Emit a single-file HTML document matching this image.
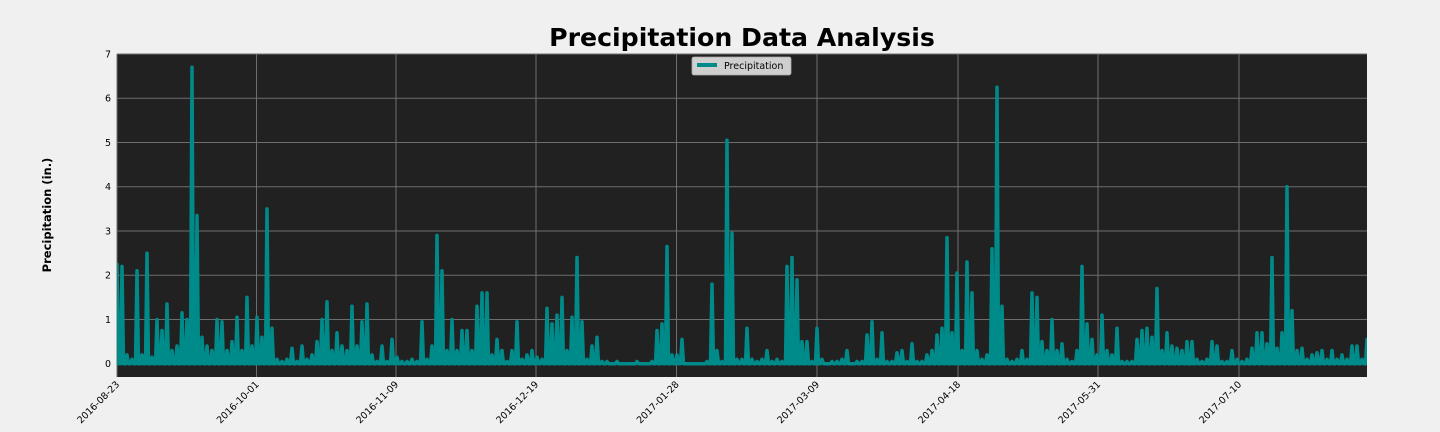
<!DOCTYPE html>
<html><head><meta charset="utf-8"><style>
body{margin:0;background:#f0f0f0;}
svg{display:block;font-family:"DejaVu Sans","Liberation Sans",sans-serif;}
</style></head><body>
<svg id="chart" width="1440" height="432" viewBox="0 0 1440 432" xmlns="http://www.w3.org/2000/svg">
<defs><clipPath id="plotclip"><rect x="117" y="54" width="1250" height="323"/></clipPath></defs>
<rect width="1440" height="432" fill="#f0f0f0"/>
<text x="742" y="46" text-anchor="middle" font-size="25.2" font-weight="bold" fill="#000">Precipitation Data Analysis</text>
<text transform="translate(51,215) rotate(-90)" text-anchor="middle" font-size="11.5" font-weight="bold" fill="#000">Precipitation (in.)</text>
<rect x="117" y="54" width="1250" height="323" fill="#212121"/>
<g id="grid"></g>
<g id="series" clip-path="url(#plotclip)"></g>
<g id="ticks"></g>
<g>
<rect x="692" y="57" width="99" height="18" rx="2" fill="#cfcfcf" stroke="#aaa" stroke-width="0.8"/>
<line x1="697" y1="65" x2="717" y2="65" stroke="#008b8b" stroke-width="4"/>
<text x="724" y="69" font-size="9.5" fill="#000">Precipitation</text>
</g>
</svg>
<script>
const values = [2.25,2.2,0.2,0.1,2.1,0.2,2.5,0.15,1.0,0.75,1.35,0.3,0.4,1.15,1.0,6.7,3.35,0.6,0.4,0.3,1.0,0.95,0.3,0.5,1.05,0.3,1.5,0.4,1.05,0.6,3.5,0.8,0.1,0.05,0.1,0.35,0.05,0.4,0.1,0.2,0.5,1.0,1.4,0.3,0.7,0.4,0.3,1.3,0.4,0.95,1.35,0.2,0.05,0.4,0.05,0.55,0.15,0.05,0.05,0.1,0.05,0.95,0.1,0.4,2.9,2.1,0.3,1.0,0.3,0.75,0.75,0.3,1.3,1.6,1.6,0.2,0.55,0.3,0.05,0.3,0.95,0.1,0.2,0.3,0.15,0.1,1.25,0.9,1.1,1.5,0.3,1.05,2.4,0.95,0.1,0.4,0.6,0.05,0.05,0.0,0.05,0,0,0,0.05,0,0,0.05,0.75,0.9,2.65,0.2,0.2,0.55,0,0,0,0,0.05,1.8,0.3,0.05,5.05,2.95,0.1,0.1,0.8,0.1,0.05,0.1,0.3,0.05,0.1,0.05,2.2,2.4,1.9,0.5,0.5,0.05,0.8,0.1,0.0,0.05,0.05,0.1,0.3,0,0.05,0.05,0.65,0.95,0.1,0.7,0.05,0.05,0.25,0.3,0.05,0.45,0.05,0.05,0.2,0.3,0.65,0.8,2.85,0.7,2.05,0.3,2.3,1.6,0.3,0.1,0.2,2.6,6.25,1.3,0.1,0.05,0.1,0.3,0.1,1.6,1.5,0.5,0.3,1.0,0.3,0.45,0.1,0.05,0.3,2.2,0.9,0.55,0.2,1.1,0.3,0.2,0.8,0.05,0.05,0.05,0.55,0.75,0.8,0.6,1.7,0.3,0.7,0.4,0.35,0.3,0.5,0.5,0.1,0.05,0.1,0.5,0.4,0.05,0.05,0.3,0.1,0.05,0.1,0.35,0.7,0.7,0.45,2.4,0.35,0.7,4.0,1.2,0.3,0.35,0.1,0.2,0.25,0.3,0.1,0.3,0.1,0.2,0.1,0.4,0.4,0.1,0.55];
const dryReading = 0;
const xTickLabels = ["2016-08-23","2016-10-01","2016-11-09","2016-12-19","2017-01-28","2017-03-09","2017-04-18","2017-05-31","2017-07-10"];
const xTickIndex = [0,27.9,55.8,83.8,111.9,140,168.2,196.2,224.4];
const yTicks = [0,1,2,3,4,5,6,7];

const NS="http://www.w3.org/2000/svg";
const X0=117,X1=1367,Y0=54,Y1=377, YMIN=-0.3, YMAX=7;
const nMax = 250;
function xs(i){return X0+(X1-X0)*i/nMax;}
function ys(v){return Y1-(v-YMIN)/(YMAX-YMIN)*(Y1-Y0);}
const grid=document.getElementById('grid'), ticks=document.getElementById('ticks'), series=document.getElementById('series');
function mk(tag,attrs,parent){const e=document.createElementNS(NS,tag);for(const k in attrs)e.setAttribute(k,attrs[k]);parent.appendChild(e);return e;}
yTicks.forEach(t=>{
  const y=ys(t);
  const g=mk('line',{x1:X0,x2:X1,y1:y,y2:y,stroke:'#6e6e6e','stroke-width':1},grid);
  
  
  const tx=mk('text',{x:111,y:y+3.5,'text-anchor':'end','font-size':9.5,fill:'#000'},ticks);
  tx.textContent=t;
  
  
});
xTickLabels.forEach((lab,k)=>{
  const x=xs(xTickIndex[k]);
  const g=mk('line',{x1:x,x2:x,y1:Y0,y2:Y1,stroke:'#6e6e6e','stroke-width':1},grid);
  
  
  const tx=mk('text',{transform:`translate(${x+3},${Y1+8}) rotate(-45)`,'text-anchor':'end','font-size':9.5,fill:'#000'},ticks);
  tx.textContent=lab;
  
  
});
const pts=[];
values.forEach((v,i)=>{
  const x=xs(i);
  pts.push((x-1.5).toFixed(1)+','+ys(dryReading).toFixed(1));
  pts.push(x.toFixed(1)+','+ys(v).toFixed(1));
  pts.push((x+1.5).toFixed(1)+','+ys(dryReading).toFixed(1));
});
const pl=mk('polyline',{points:pts.join(' '),fill:'none',stroke:'#008b8b','stroke-width':3.5,'stroke-linejoin':'round','stroke-linecap':'round'},series);


</script>
</body></html>
